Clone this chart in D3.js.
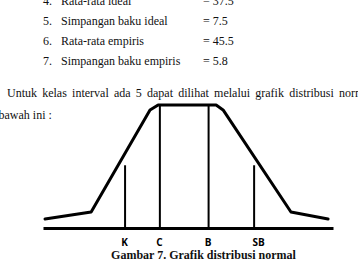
<!DOCTYPE html>
<html>
<head>
<meta charset="utf-8">
<script src="https://cdn.jsdelivr.net/npm/d3@7"></script>
<style>
  body { margin: 0; background: #fff; overflow: hidden; }
  svg { display: block; }
  .serif { font-family: "Liberation Serif", "Times New Roman", serif; fill: #111; }
</style>
</head>
<body>
<div id="chart"></div>
<script>
// list text above the chart
const itemNums = ["4.", "5.", "6.", "7."];
const itemLabels = ["Rata-rata ideal", "Simpangan baku ideal", "Rata-rata empiris", "Simpangan baku empiris"];
const itemValues = ["= 37.5", "= 7.5", "= 45.5", "= 5.8"];

const paragraph = "Untuk kelas interval ada 5 dapat dilihat melalui grafik distribusi normal";
const paragraph2 = "bawah ini :";

// curve shape (x in 0-100 along baseline, y in 0-100 height)
const curveX = [0.7, 16.6, 36.9, 39.7, 59.7, 62.1, 85.5, 98.3];
const curveY = [7.3, 13, 95.9, 100, 100, 96, 13, 7.3];

// vertical markers
const markLabels = ["K", "C", "B", "SB"];
const markX = [28.3, 40.3, 57.1, 72.8];
const markY = [51, 100, 100, 51];

const caption = "Gambar 7. Grafik distribusi normal";

const W = 358, H = 266;

var svg = d3.select("#chart")
    .append("svg")
    .attr("width", W)
    .attr("height", H);

// list rows
var rows = svg.selectAll("g.row")
    .data(itemLabels)
    .enter().append("g")
    .attr("class", "row serif")
    .attr("transform", (d, i) => "translate(0," + (4.5 + i * 20.3) + ")")
    .style("font-size", "12px");

rows.append("text").attr("x", 43).text((d, i) => itemNums[i]);
rows.append("text").attr("x", 61).text(d => d);
rows.append("text").attr("x", 203).text((d, i) => itemValues[i]);

// justified paragraph line
var words = paragraph.split(" ");
var para = svg.append("g").attr("class", "serif").style("font-size", "12px");
var wt = para.selectAll("text")
    .data(words)
    .enter().append("text")
    .attr("y", 96.5)
    .text(d => d);
var widths = [];
wt.each(function() { widths.push(this.getComputedTextLength()); });
var startX = 7, lastX = 339;
var gap = (lastX - startX - d3.sum(widths.slice(0, words.length - 1))) / (words.length - 1);
var cx = startX;
wt.attr("x", (d, i) => {
    var x = cx;
    cx += widths[i] + gap;
    return x;
});

para.append("text")
    .attr("x", -1.5)
    .attr("y", 118.5)
    .text(paragraph2);

// scales
var x = d3.scaleLinear().domain([0, 100]).range([43, 333]);
var y = d3.scaleLinear().domain([0, 100]).range([228, 105]);

// baseline axis
var axis = svg.append("g")
    .attr("transform", "translate(0," + y(0) + ")")
    .call(d3.axisBottom(x).tickValues(markX).tickSize(0).tickSizeOuter(0)
        .tickFormat((d, i) => markLabels[i]));
axis.select(".domain").attr("stroke", "#000").attr("stroke-width", 3);
axis.selectAll(".tick text")
    .attr("y", 18)
    .attr("dy", 0)
    .attr("dx", (d, i) => i === 3 ? 4 : -1)
    .style("font-family", "'Open Sans', 'Liberation Sans', sans-serif")
    .style("font-weight", "bold")
    .style("font-size", "10px")
    .attr("fill", "#000");

// vertical markers
svg.selectAll("line.mark")
    .data(markX)
    .enter().append("line")
    .attr("class", "mark")
    .attr("x1", d => x(d))
    .attr("x2", d => x(d))
    .attr("y1", y(0))
    .attr("y2", (d, i) => y(markY[i]))
    .attr("stroke", "#000")
    .attr("stroke-width", 2);

// distribution curve
var line = d3.line()
    .x(d => x(d[0]))
    .y(d => y(d[1]));

svg.append("path")
    .datum(curveX.map((d, i) => [d, curveY[i]]))
    .attr("d", line)
    .attr("fill", "none")
    .attr("stroke", "#000")
    .attr("stroke-width", 3)
    .attr("stroke-linejoin", "round")
    .attr("stroke-linecap", "round");

// caption
svg.append("text")
    .attr("class", "serif")
    .attr("x", 203.5)
    .attr("y", 258.5)
    .attr("text-anchor", "middle")
    .style("font-size", "12px")
    .style("font-weight", "bold")
    .text(caption);
</script>
</body>
</html>
